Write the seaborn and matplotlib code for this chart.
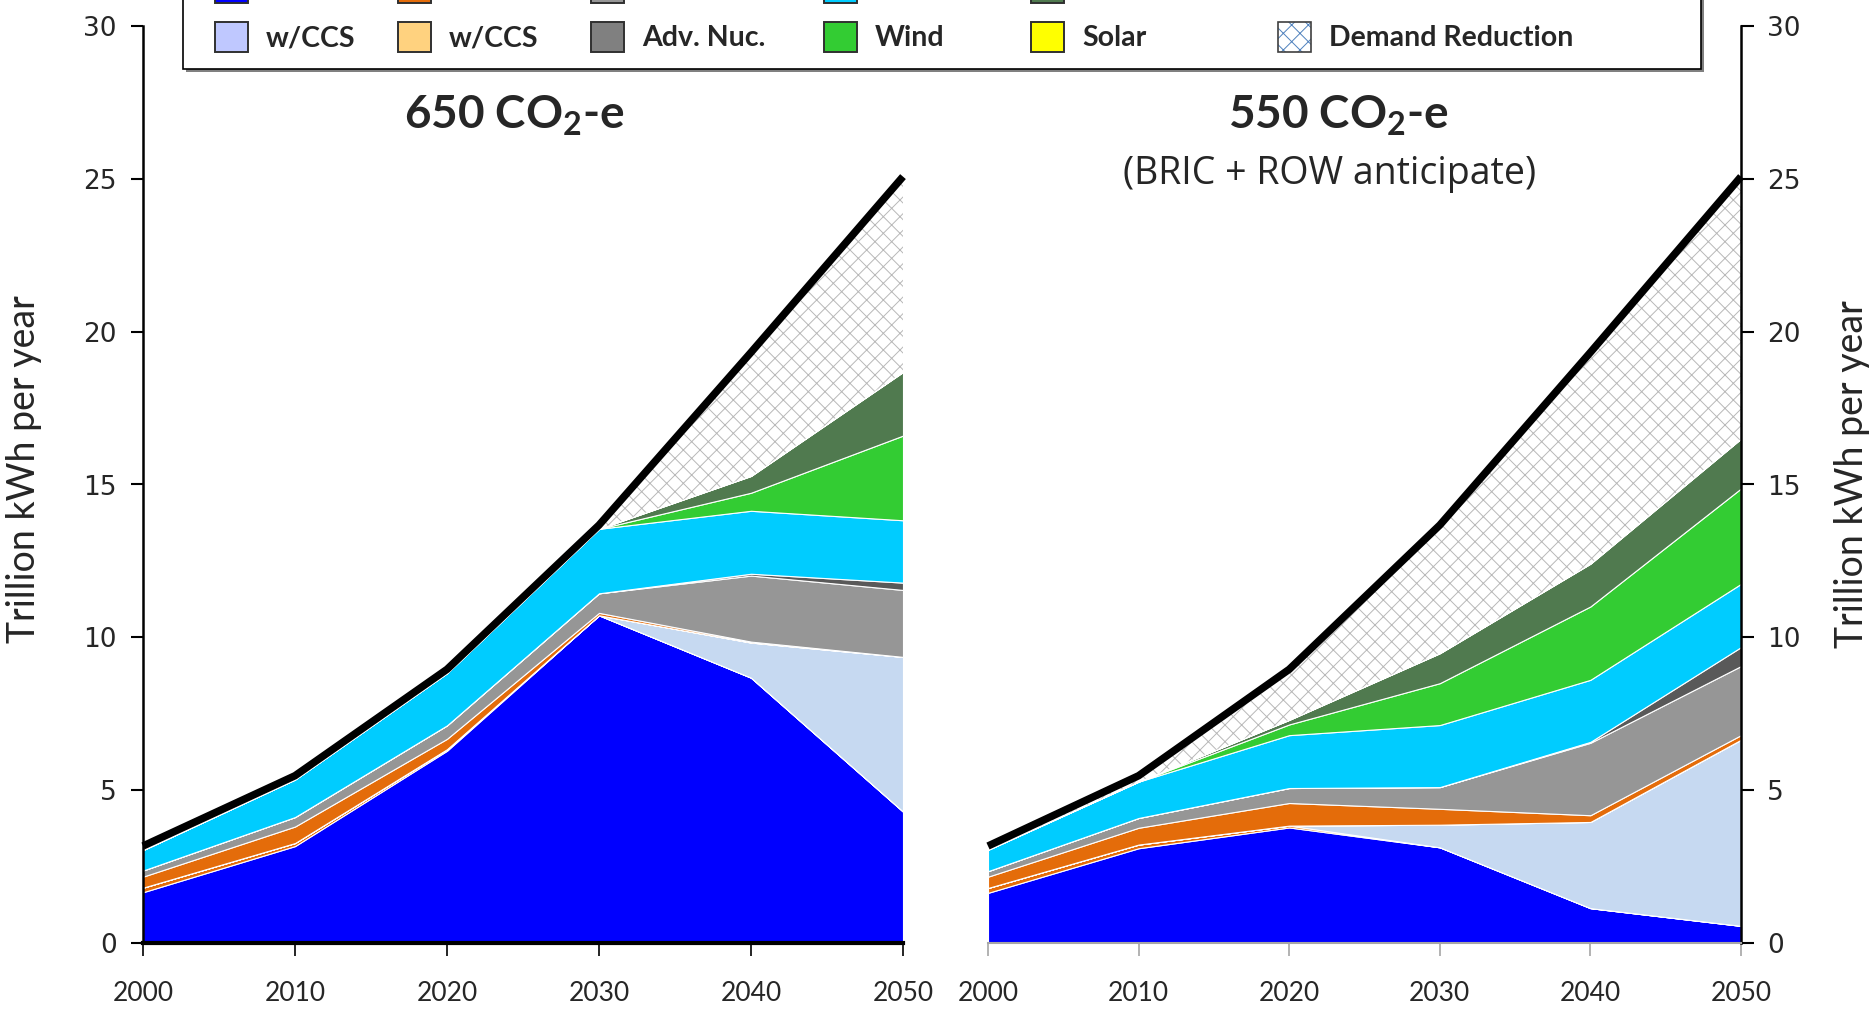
import numpy as np
import matplotlib
matplotlib.use("Agg")
import matplotlib.pyplot as plt
import matplotlib.transforms as mtransforms
from matplotlib.patches import Rectangle
import seaborn as sns

# ---------------- data ----------------
years = [2000, 2010, 2020, 2030, 2040, 2050]

# 650 CO2-e scenario (trillion kWh per year, layer thickness)
coal_650 = [1.66, 3.17, 6.29, 10.72, 8.68, 4.30]
oil_650 = [0.15, 0.10, 0.05, 0.00, 0.00, 0.00]
coal_ccs_650 = [0.00, 0.00, 0.00, 0.00, 1.15, 5.06]
gas_ccs_650 = [0.00, 0.00, 0.00, 0.00, 0.00, 0.00]
gas_650 = [0.36, 0.54, 0.34, 0.08, 0.03, 0.00]
nuclear_650 = [0.20, 0.31, 0.44, 0.64, 2.16, 2.19]
adv_nuc_650 = [0.00, 0.00, 0.00, 0.00, 0.06, 0.24]
hydro_650 = [0.67, 1.23, 1.71, 2.11, 2.06, 2.04]
wind_650 = [0.00, 0.00, 0.00, 0.00, 0.59, 2.77]
biomass_650 = [0.00, 0.00, 0.00, 0.00, 0.55, 2.08]
solar_650 = [0.00, 0.00, 0.00, 0.00, 0.00, 0.00]

# 550 CO2-e scenario (BRIC + ROW anticipate)
coal_550 = [1.64, 3.10, 3.78, 3.13, 1.14, 0.56]
oil_550 = [0.16, 0.12, 0.06, 0.00, 0.00, 0.00]
coal_ccs_550 = [0.00, 0.00, 0.00, 0.74, 2.82, 6.09]
gas_ccs_550 = [0.00, 0.00, 0.00, 0.00, 0.00, 0.00]
gas_550 = [0.37, 0.55, 0.74, 0.52, 0.22, 0.15]
nuclear_550 = [0.18, 0.32, 0.49, 0.71, 2.37, 2.26]
adv_nuc_550 = [0.00, 0.00, 0.00, 0.00, 0.03, 0.62]
hydro_550 = [0.70, 1.19, 1.73, 2.03, 2.03, 2.07]
wind_550 = [0.00, 0.00, 0.35, 1.37, 2.40, 3.12]
biomass_550 = [0.00, 0.00, 0.15, 0.98, 1.40, 1.63]
solar_550 = [0.00, 0.00, 0.00, 0.00, 0.00, 0.00]

# total demand without reduction (top of hatched area / black line)
demand = [3.05, 5.35, 8.83, 13.55, 19.20, 24.95]

layer_colors = ["#0000FF", "#E46C0A", "#C6D9F1", "#FFD27F", "#E46C0A",
                "#969696", "#595959", "#00CCFF", "#33CC33", "#507A4F", "#FFFF00"]

legend_row1_colors = ["#0000FF", "#E46C0A", "#969696", "#00CCFF", "#507A4F"]
legend_row2 = ["w/CCS", "w/CCS", "Adv. Nuc.", "Wind", "Solar", "Demand Reduction"]
legend_row2_colors = ["#BFC8FF", "#FFD27F", "#808080", "#33CC33", "#FFFF00", None]

yticks = [0, 5, 10, 15, 20, 25, 30]
ylabel = "Trillion kWh per year"

# ---------------- style ----------------
sns.set_theme(style="white")
plt.rcParams["font.family"] = ["Lato", "DejaVu Sans"]
plt.rcParams["mathtext.default"] = "regular"
plt.rcParams["hatch.linewidth"] = 0.7

W, H = 1876, 1013
fig = plt.figure(figsize=(W / 100, H / 100), dpi=100)
fig.patch.set_facecolor("white")
px = mtransforms.Affine2D().scale(1 / W, -1 / H).translate(0, 1) + fig.transFigure

ax1 = fig.add_axes([143 / W, 1 - 943 / H, 760 / W, 917 / H])
ax2 = fig.add_axes([988 / W, 1 - 943 / H, 753 / W, 917 / H])


def draw_panel(ax, layers):
    layers = [np.asarray(l, dtype=float) for l in layers]
    tops = np.sum(layers, axis=0)
    ax.stackplot(years, *layers, colors=layer_colors,
                 edgecolor="white", linewidth=0.8)
    # demand reduction (hatched)
    ax.fill_between(years, tops, np.maximum(np.asarray(demand), tops),
                    facecolor="white", edgecolor="#B8B8B8", hatch="xx",
                    linewidth=0, zorder=1.5)
    off = mtransforms.offset_copy(ax.transData, fig=fig, x=0, y=2.7, units="points")
    sns.lineplot(x=years, y=demand, ax=ax, color="black", linewidth=5.4,
                 transform=off, solid_joinstyle="miter", solid_capstyle="butt",
                 clip_on=False, legend=False, zorder=5)
    ax.set_xlim(2000, 2050)
    ax.set_ylim(0, 30)
    ax.set_xticks(years)
    ax.set_yticks(yticks)
    ax.set_xlabel("")
    ax.grid(False)
    ax.set_facecolor("none")
    ax.tick_params(axis="x", labelsize=19, labelfontfamily="Lato")
    ax.tick_params(axis="y", labelsize=19, labelfontfamily="DejaVu Sans")


draw_panel(ax1, [coal_650, oil_650, coal_ccs_650, gas_ccs_650, gas_650, nuclear_650,
                 adv_nuc_650, hydro_650, wind_650, biomass_650, solar_650])
draw_panel(ax2, [coal_550, oil_550, coal_ccs_550, gas_ccs_550, gas_550, nuclear_550,
                 adv_nuc_550, hydro_550, wind_550, biomass_550, solar_550])

# left panel axes
for s in ["top", "right"]:
    ax1.spines[s].set_visible(False)
ax1.spines["left"].set_color("black")
ax1.spines["left"].set_linewidth(1.8)
ax1.spines["bottom"].set_color("black")
ax1.spines["bottom"].set_linewidth(3)
ax1.tick_params(axis="y", direction="out", length=9, width=1.5, color="black", pad=10,
                left=True, labelleft=True)
ax1.tick_params(axis="x", direction="out", length=9, width=1.2, color="black", pad=18,
                bottom=True)
ax1.set_ylabel(ylabel, fontsize=27, fontfamily=["Lato", "DejaVu Sans"])
ax1.yaxis.label.set_va("center")
ax1.yaxis.set_label_coords((24 - 143) / 760, (943 - 469) / 917)

# right panel axes
for s in ["top", "left"]:
    ax2.spines[s].set_visible(False)
ax2.spines["right"].set_visible(True)
ax2.spines["right"].set_color("black")
ax2.spines["right"].set_linewidth(1.8)
ax2.spines["bottom"].set_color("#A6A6A6")
ax2.spines["bottom"].set_linewidth(1.5)
ax2.yaxis.tick_right()
ax2.yaxis.set_label_position("right")
ax2.tick_params(axis="y", direction="out", length=9, width=1.5, color="black", pad=10,
                right=True, labelright=True, left=False, labelleft=False,
                labelsize=19, labelfontfamily="DejaVu Sans")
ax2.tick_params(axis="x", direction="out", length=9, width=1.2, color="#A6A6A6", pad=18,
                bottom=True)
ax2.set_ylabel(ylabel, fontsize=27, fontfamily=["Lato", "DejaVu Sans"], rotation=90)
ax2.yaxis.label.set_va("center")
ax2.yaxis.set_label_coords((1852 - 988) / 753, (943 - 474) / 917)

# titles
fig.text(514, 116, "650 CO$_2$-e", transform=px, ha="center", va="center",
         fontsize=33, fontweight="bold", fontfamily=["Lato", "DejaVu Sans"])
fig.text(1338, 116, "550 CO$_2$-e", transform=px, ha="center", va="center",
         fontsize=33, fontweight="bold", fontfamily=["Lato", "DejaVu Sans"])
fig.text(1330, 174, "(BRIC + ROW anticipate)", transform=px, ha="center", va="center",
         fontsize=27, fontfamily=["Open Sans", "DejaVu Sans"])

# legend (box partly above the figure top, as in the reference)
fig.add_artist(Rectangle((186, -60), 1518, 132, transform=px, facecolor="#808080",
                         edgecolor="none", clip_on=False, zorder=9))
fig.add_artist(Rectangle((183, -63), 1518, 132, transform=px, facecolor="white",
                         edgecolor="black", linewidth=1.2, clip_on=False, zorder=10))
col_x = [215, 398, 591, 824, 1031, 1278]
# first row: only the bottoms of the swatches are inside the picture
for x, c in zip(col_x, legend_row1_colors):
    fig.add_artist(Rectangle((x, -27), 33, 30, transform=px, facecolor=c,
                             edgecolor="#303030", linewidth=1.4, zorder=11))
for x, lab, c in zip(col_x, legend_row2, legend_row2_colors):
    top = 22
    if c is None:
        fig.add_artist(Rectangle((x, top), 33, 30, transform=px, facecolor="white",
                                 edgecolor="#4F81BD", hatch="xx", linewidth=0,
                                 zorder=11))
        fig.add_artist(Rectangle((x, top), 33, 30, transform=px, facecolor="none",
                                 edgecolor="#404040", linewidth=1.2, zorder=12))
    else:
        fig.add_artist(Rectangle((x, top), 33, 30, transform=px, facecolor=c,
                                 edgecolor="#303030", linewidth=1.4, zorder=11))
    fig.text(x + 51, top + 16, lab, transform=px, ha="left", va="center",
             fontsize=20.5, fontweight="bold", fontfamily=["Lato", "DejaVu Sans"],
             zorder=12)

fig.savefig("out.png", dpi=100, facecolor="white")
